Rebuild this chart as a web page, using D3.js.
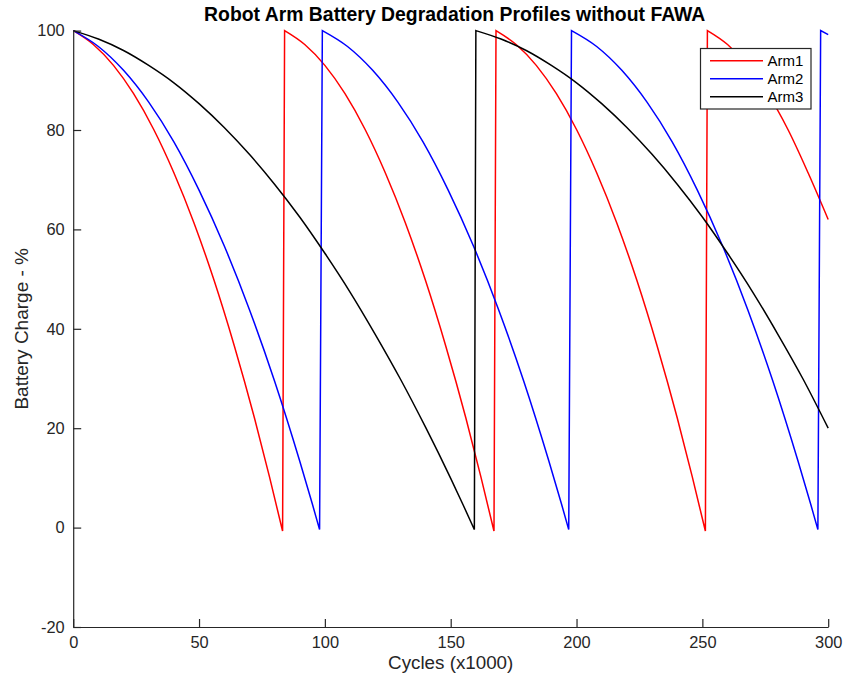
<!DOCTYPE html>
<html>
<head>
<meta charset="utf-8">
<script src="https://cdn.jsdelivr.net/npm/d3@7"></script>
<style>
  html, body { margin: 0; padding: 0; background: #ffffff; }
  svg { display: block; font-family: "Liberation Sans", Arial, Helvetica, sans-serif; }
</style>
</head>
<body>
<svg id="chart" width="847" height="681"></svg>
<script>
// Battery charge (%) against cycles (x1000) for three robot arms.
// Each arm drains, hits empty and is recharged to 100%.
const arm1X = [0, 8, 16, 24, 32, 40, 48, 56, 64, 72, 78, 83.2,
               84, 92, 100, 108, 116, 124, 132, 140, 148, 156, 162, 167.2,
               168, 176, 184, 192, 200, 208, 216, 224, 232, 240, 246, 251.2,
               252, 260, 268, 276, 284, 292, 300];
const arm1Y = [100, 97.2, 93.0, 87.3, 80.1, 71.4, 61.3, 49.7, 36.6, 22.1, 10.2, -0.7,
               100, 97.2, 93.0, 87.3, 80.1, 71.4, 61.3, 49.7, 36.6, 22.1, 10.2, -0.7,
               100, 97.2, 93.0, 87.3, 80.1, 71.4, 61.3, 49.7, 36.6, 22.1, 10.2, -0.7,
               100, 97.2, 93.0, 87.3, 80.1, 71.4, 62.0];

const arm2X = [0, 10, 20, 30, 40, 50, 60, 70, 80, 90, 95, 97.9,
               99, 109, 119, 129, 139, 149, 159, 169, 179, 189, 194, 196.9,
               198, 208, 218, 228, 238, 248, 258, 268, 278, 288, 293, 295.9,
               297, 300];
const arm2Y = [100, 96.8, 92.0, 85.6, 77.6, 67.9, 56.7, 43.9, 29.5, 13.4, 4.8, -0.4,
               100, 96.8, 92.0, 85.6, 77.6, 67.9, 56.7, 43.9, 29.5, 13.4, 4.8, -0.4,
               100, 96.8, 92.0, 85.6, 77.6, 67.9, 56.7, 43.9, 29.5, 13.4, 4.8, -0.4,
               100, 99.2];

const arm3X = [0, 10, 20, 30, 40, 50, 60, 70, 80, 90, 100, 110, 120, 130, 140, 150, 155, 159.4,
               160, 170, 180, 190, 200, 210, 220, 230, 240, 250, 260, 270, 280, 290, 300];
const arm3Y = [100, 98.3, 96.0, 93.0, 89.5, 85.3, 80.5, 75.1, 69.1, 62.5, 55.2, 47.4, 38.9, 29.9, 20.2, 9.9, 4.5, -0.4,
               100, 98.3, 96.0, 93.0, 89.5, 85.3, 80.5, 75.1, 69.1, 62.5, 55.2, 47.4, 38.9, 29.9, 20.0];

const seriesNames = ["Arm1", "Arm2", "Arm3"];
const seriesColors = ["#ff0000", "#0000ff", "#000000"];
const xTicks = [0, 50, 100, 150, 200, 250, 300];
const yTicks = [-20, 0, 20, 40, 60, 80, 100];

const titleText = "Robot Arm Battery Degradation Profiles without FAWA";
const xLabelText = "Cycles (x1000)";
const yLabelText = "Battery Charge - %";

const series = [
  { name: seriesNames[0], color: seriesColors[0], x: arm1X, y: arm1Y },
  { name: seriesNames[1], color: seriesColors[1], x: arm2X, y: arm2Y },
  { name: seriesNames[2], color: seriesColors[2], x: arm3X, y: arm3Y }
];

const svg = d3.select("#chart");
const axisColor = "#262626";
const fontStack = "'Liberation Sans', Arial, Helvetica, sans-serif";

const plot = { left: 73.2, right: 828.2, top: 30.6, bottom: 627 };

const x = d3.scaleLinear().domain([0, 300]).range([plot.left, plot.right]);
const y = d3.scaleLinear().domain([-20, 100]).range([plot.bottom, plot.top]);

svg.append("rect").attr("width", 847).attr("height", 681).attr("fill", "#ffffff");

// Clip lines to the axes area
svg.append("clipPath").attr("id", "plot-clip")
  .append("rect")
  .attr("x", plot.left).attr("y", plot.top - 3)
  .attr("width", plot.right - plot.left + 2)
  .attr("height", plot.bottom - plot.top + 3);

// Split each series into discharge runs (a new run begins on recharge)
function runsOf(s) {
  const pts = s.x.map((v, i) => [v, s.y[i]]);
  const runs = [];
  let cur = [];
  pts.forEach((p, i) => {
    if (i > 0 && p[1] > pts[i - 1][1]) { runs.push(cur); cur = []; }
    cur.push(p);
  });
  runs.push(cur);
  return runs;
}

const curveLine = d3.line()
  .x(d => x(d[0]))
  .y(d => y(d[1]))
  .curve(d3.curveMonotoneX);

const linesG = svg.append("g").attr("clip-path", "url(#plot-clip)");
series.forEach(s => {
  const runs = runsOf(s);
  // One continuous path: curved discharge runs joined by straight recharge jumps
  const d = runs.map((r, i) => {
    const part = curveLine(r);
    return i === 0 ? part : "L" + part.slice(1);
  }).join("");
  linesG.append("path")
    .attr("d", d)
    .attr("fill", "none")
    .attr("stroke", s.color)
    .attr("stroke-width", 1.5)
    .attr("stroke-linejoin", "miter");
});

// Axes (ticks point inward, no box); plain hyphen for negatives
const plainFormat = d => String(d);
const xAxis = d3.axisBottom(x).tickValues(xTicks).tickFormat(plainFormat)
  .tickSizeInner(-8).tickSizeOuter(0).tickPadding(9.5);
const yAxis = d3.axisLeft(y).tickValues(yTicks).tickFormat(plainFormat)
  .tickSizeInner(-8).tickSizeOuter(0).tickPadding(8.5);

const gx = svg.append("g").attr("transform", `translate(0,${plot.bottom})`).call(xAxis);
const gy = svg.append("g").attr("transform", `translate(${plot.left},0)`).call(yAxis);

[gx, gy].forEach(g => {
  g.selectAll("path.domain").attr("stroke", axisColor).attr("stroke-width", 1.2);
  g.selectAll(".tick line").attr("stroke", axisColor).attr("stroke-width", 1.2);
  g.selectAll(".tick text")
    .attr("fill", axisColor)
    .style("font-size", "16.4px")
    .style("font-family", fontStack);
});

// Title
svg.append("text")
  .attr("x", (plot.left + plot.right) / 2 + 4)
  .attr("y", 21)
  .attr("text-anchor", "middle")
  .attr("font-weight", "bold")
  .attr("font-size", "19.4px")
  .attr("fill", "#000000")
  .text(titleText);

// Axis labels
svg.append("text")
  .attr("x", (plot.left + plot.right) / 2)
  .attr("y", 669)
  .attr("text-anchor", "middle")
  .attr("font-size", "18.8px")
  .attr("fill", axisColor)
  .text(xLabelText);

svg.append("text")
  .attr("transform", `translate(28,${(plot.top + plot.bottom) / 2}) rotate(-90)`)
  .attr("text-anchor", "middle")
  .attr("font-size", "19px")
  .attr("fill", axisColor)
  .text(yLabelText);

// Legend
const legend = svg.append("g").attr("transform", "translate(700.5,48.5)");
legend.append("rect")
  .attr("width", 110.5).attr("height", 60.5)
  .attr("fill", "#ffffff")
  .attr("stroke", axisColor)
  .attr("stroke-width", 1.2);

const rowY = d3.scaleLinear().domain([0, 1]).range([12.2, 30.2]);
series.forEach((s, i) => {
  const yy = rowY(i);
  legend.append("line")
    .attr("x1", 9.5).attr("x2", 62.5)
    .attr("y1", yy).attr("y2", yy)
    .attr("stroke", s.color)
    .attr("stroke-width", 1.5);
  legend.append("text")
    .attr("x", 67)
    .attr("y", yy)
    .attr("dy", "0.35em")
    .attr("font-size", "15px")
    .attr("fill", "#000000")
    .text(s.name);
});
</script>
</body>
</html>
